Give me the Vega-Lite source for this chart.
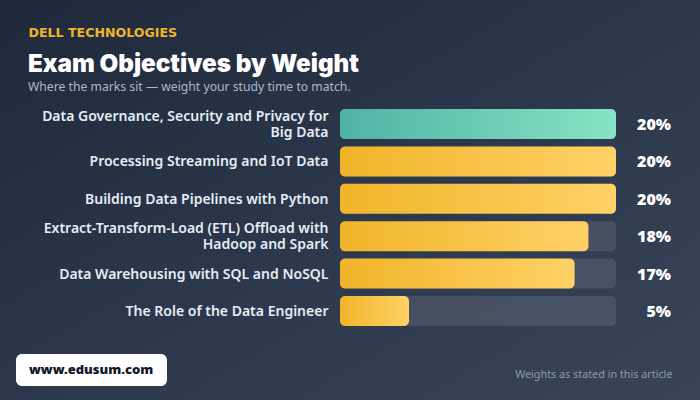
{"$schema":"https://vega.github.io/schema/vega-lite/v6.json","width":700,"height":400,"autosize":"none","padding":0,"background":"#28334a","config":{"view":{"stroke":null,"fill":{"gradient":"linear","x1":0,"y1":0,"x2":1,"y2":1,"stops":[{"offset":0,"color":"#1e293b"},{"offset":1,"color":"#384559"}]}},"font":"Noto Sans"},"title":{"text":"Exam Objectives by Weight","subtitle":"Where the marks sit — weight your study time to match.","anchor":"start","frame":"group","dx":28,"offset":-93,"font":"Inter","fontSize":24.2,"fontWeight":900,"color":"#ffffff","subtitleFont":"Noto Sans","subtitleFontSize":12.2,"subtitleColor":"#a9b8cc","subtitlePadding":4},"data":{"values":[{"label":"Data Governance, Security and Privacy for\nBig Data","start":0,"weight":0.2,"max":0.2,"group":"first","site":"www.edusum.com"},{"label":"Processing Streaming and IoT Data","start":0,"weight":0.2,"max":0.2,"group":"rest","site":"www.edusum.com"},{"label":"Building Data Pipelines with Python","start":0,"weight":0.2,"max":0.2,"group":"rest","site":"www.edusum.com"},{"label":"Extract-Transform-Load (ETL) Offload with\nHadoop and Spark","start":0,"weight":0.18,"max":0.2,"group":"rest","site":"www.edusum.com"},{"label":"Data Warehousing with SQL and NoSQL","start":0,"weight":0.17,"max":0.2,"group":"rest","site":"www.edusum.com"},{"label":"The Role of the Data Engineer","start":0,"weight":0.05,"max":0.2,"group":"rest","site":"www.edusum.com"}]},"encoding":{"y":{"field":"label","type":"nominal","sort":null,"scale":{"range":[109,326],"paddingInner":0.198,"paddingOuter":0},"axis":{"orient":"left","offset":-328,"domain":false,"ticks":false,"labelPadding":0,"labelFontSize":14,"labelFont":"Noto Sans","labelFontWeight":600,"labelColor":"#e6ecf5","labelAlign":"right","labelLimit":340,"labelLineHeight":16,"labelOffset":{"expr":"indexof(datum.label,'\\n')>=0 ? -7 : 1"},"labelExpr":"split(datum.label,'\\n')","title":"Weights as stated in this article","titleAngle":0,"titleFont":"Noto Sans","titleFontSize":10.8,"titleFontWeight":400,"titleColor":"#8a99b0","titleAlign":"right","titleBaseline":"middle","titleX":344,"titleY":374}}},"layer":[{"mark":{"type":"rect","cornerRadius":5,"color":"#ffffff","fillOpacity":0.1},"encoding":{"x":{"field":"start","type":"quantitative","scale":{"domain":[0,0.2],"range":[340,616]},"axis":{"orient":"top","domain":false,"ticks":false,"labels":false,"grid":false,"title":"DELL TECHNOLOGIES","titleFont":"DejaVu Sans","titleFontSize":12.6,"titleFontWeight":700,"titleColor":"#f0b429","titleAlign":"left","titleAnchor":"start","titleBaseline":"middle","titleX":28,"titleY":32}},"x2":{"field":"max"},"opacity":{"field":"site","type":"nominal","scale":{"range":[1]},"legend":{"orient":"none","legendX":16,"legendY":354,"title":" ","titleOrient":"right","titlePadding":5,"fillColor":"#ffffff","cornerRadius":6,"padding":9,"symbolSize":0,"symbolStrokeWidth":0,"labelOffset":-9,"labelFont":"Noto Sans","labelFontSize":13,"labelFontWeight":900,"labelColor":"#111827"}}}},{"transform":[{"filter":"datum.group==='first'"}],"mark":{"type":"rect","cornerRadius":5,"color":{"gradient":"linear","x1":0,"y1":0,"x2":1,"y2":0,"stops":[{"offset":0,"color":"#4fb3a5"},{"offset":1,"color":"#86e3c3"}]}},"encoding":{"x":{"field":"start","type":"quantitative"},"x2":{"field":"weight"}}},{"transform":[{"filter":"datum.group==='rest'"}],"mark":{"type":"rect","cornerRadius":5,"color":{"gradient":"linear","x1":0,"y1":0,"x2":1,"y2":0,"stops":[{"offset":0,"color":"#f0b429"},{"offset":1,"color":"#ffd166"}]}},"encoding":{"x":{"field":"start","type":"quantitative"},"x2":{"field":"weight"}}},{"mark":{"type":"text","align":"right","baseline":"middle","dx":55,"dy":1,"font":"Noto Sans","fontSize":16,"fontWeight":900,"color":"#ffffff"},"encoding":{"x":{"field":"max","type":"quantitative"},"text":{"field":"weight","type":"quantitative","format":".0%"}}}]}
